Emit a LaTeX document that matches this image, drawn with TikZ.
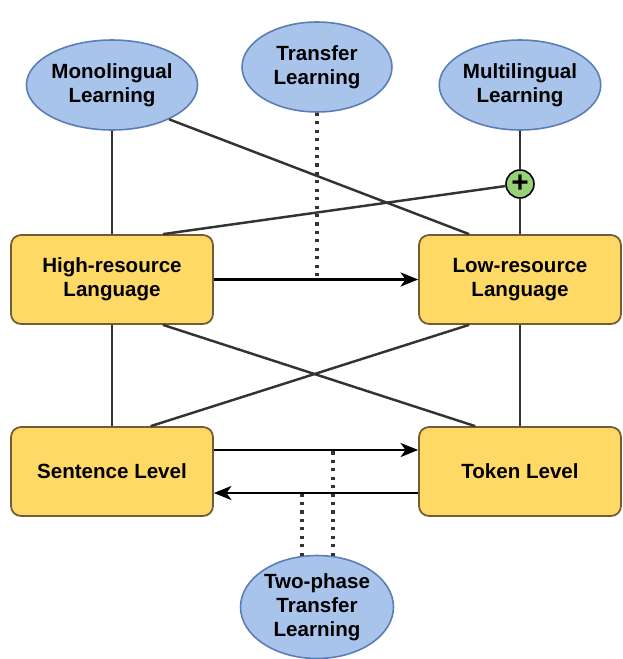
\documentclass[tikz,border=0pt]{standalone}
\usepackage{fontspec}
\setmainfont{Liberation Sans}
\usetikzlibrary{arrows.meta,calc,shapes.geometric}
\definecolor{ellfill}{HTML}{A9C4EB}
\definecolor{ellline}{HTML}{5B7DB5}
\definecolor{boxfill}{HTML}{FFD966}
\definecolor{boxline}{HTML}{6E5F32}
\definecolor{plusfill}{HTML}{97D077}
\definecolor{conn}{HTML}{333333}
\tikzset{font=\fontsize{11.7}{13.6}\selectfont\bfseries}
\tikzset{
  learn/.style={ellipse, draw=ellline, fill=ellfill, line width=0.9pt,
    minimum width=3cm, minimum height=1.8cm, inner sep=0pt, align=center},
  lang/.style={rectangle, rounded corners=0.2cm, draw=boxline, fill=boxfill,
    line width=1pt, minimum width=4.04cm, minimum height=1.78cm, align=center},
  link/.style={draw=conn, line width=1.4pt},
  flow/.style={draw=black, line width=1.4pt,
    -{Stealth[length=10pt,width=8pt,inset=2.8pt]}},
  hint/.style={draw=conn, line width=1.8pt, dash pattern=on 1.8pt off 3pt},
}

\begin{document}
\begin{tikzpicture}[x=0.02cm,y=-0.02cm]
  \useasboundingbox (0,0) rectangle (622,659);
  % learning paradigms
  \node[learn] (mono) at (112,85) {Monolingual\\Learning};
  \node[learn] (transfer) at (317,67) {Transfer\\Learning};
  \node[learn] (multi) at (520,85) {Multilingual\\Learning};
  \node[learn, minimum width=3.06cm, minimum height=2.06cm] (two) at (317,607)
       {Two-phase\\Transfer\\Learning};
  % languages and levels
  \node[lang] (high) at (112,279.5) {High-resource\\Language};
  \node[lang] (low) at (520,279.5) {Low-resource\\Language};
  \node[lang] (sent) at (112,471.5) {Sentence Level};
  \node[lang] (token) at (520,471.5) {Token Level};
  \node[circle, draw=black, fill=plusfill, line width=0.9pt, minimum size=0.56cm,
        inner sep=0pt, font=\fontsize{17}{17}\selectfont\bfseries] (plus) at (520,184) {+};

  \draw[link] (mono) -- (high);
  \draw[link] (mono.-31) -- ($(low.north west)!0.25!(low.north east)$);
  \draw[link] (multi) -- (plus);
  \draw[link] (plus) -- (low);
  \draw[link] (plus) -- ($(high.north west)!0.75!(high.north east)$);
  \draw[link] (high) -- (sent);
  \draw[link] (low) -- (token);
  \draw[link] ($(high.south west)!0.75!(high.south east)$)
           -- ($(token.north west)!0.28!(token.north east)$);
  \draw[link] ($(low.south west)!0.25!(low.south east)$)
           -- ($(sent.north west)!0.69!(sent.north east)$);

  % transfer between languages
  \draw[hint] (transfer.south) -- (transfer.south |- high.east);
  \draw[flow] (high) -- (low);

  % transfer between levels
  \coordinate (s1) at ($(sent.east)+(0,-21.5)$);
  \coordinate (s2) at ($(sent.east)+(0,21.5)$);
  \draw[flow] (s1) -- (s1 -| token.west);
  \draw[flow] (s2 -| token.west) -- (s2);
  \coordinate (d1) at ($(two.north)+(16,1)$);
  \coordinate (d2) at ($(two.north)+(-15,1)$);
  \draw[hint] (d1) -- (d1 |- s1);
  \draw[hint] (d2) -- (d2 |- s2);
\end{tikzpicture}
\end{document}
